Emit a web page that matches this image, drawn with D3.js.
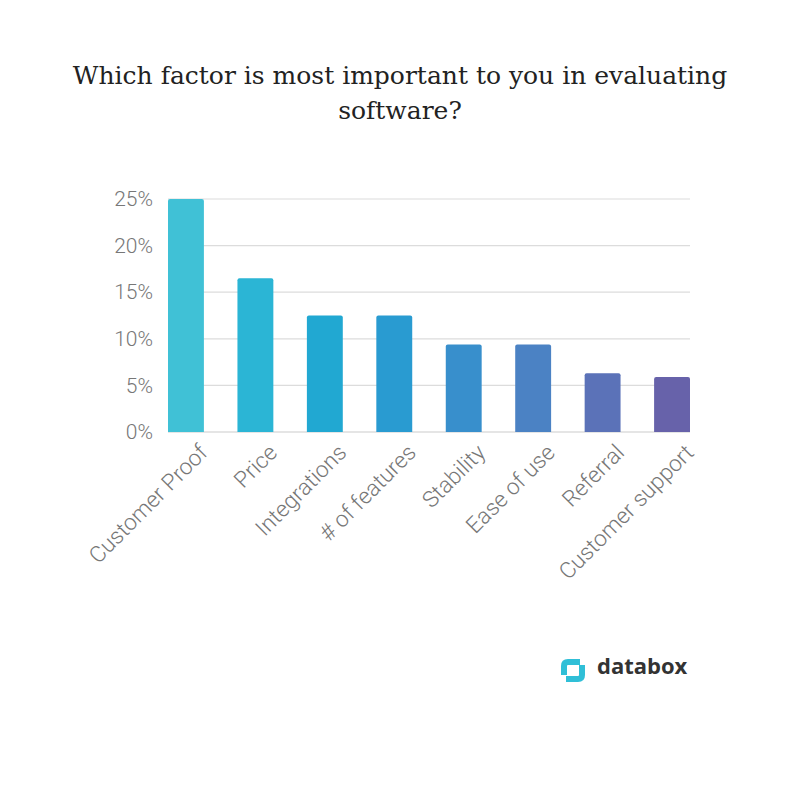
<!DOCTYPE html>
<html><head><meta charset="utf-8">
<script src="https://cdn.jsdelivr.net/npm/d3@7"></script>
<style>body{margin:0;background:#fff}</style>
</head><body>
<svg id="c" width="800" height="800"></svg>
<script>
const categories = ["Customer Proof","Price","Integrations","# of features","Stability","Ease of use","Referral","Customer support"];
const values = [25, 16.5, 12.5, 12.5, 9.4, 9.4, 6.3, 5.9];
const barColors = ["#40c1d6","#2bb5d5","#21a8d2","#299bd1","#388fcc","#4b82c4","#5b72b8","#6762aa"];
const yTicks = [0,5,10,15,20,25];
const titleLines = ["Which factor is most important to you in evaluating","software?"];

const svg = d3.select("#c");
svg.append("rect").attr("width",800).attr("height",800).attr("fill","#fff");

const t = svg.append("text").attr("x",400).attr("text-anchor","middle")
  .attr("font-family","'Roboto Slab','DejaVu Serif',serif").attr("font-size",25).attr("fill","#222");
titleLines.forEach((l,i)=>t.append("tspan").attr("x",400).attr("y",84+i*35).text(l));

const x = d3.scaleBand().domain(categories).range([168,690]).paddingInner(0.483).paddingOuter(0);
const y = d3.scaleLinear().domain([0,25]).range([432,199]);

// gridlines
svg.append("g").selectAll("line").data(yTicks).join("line")
  .attr("x1",168).attr("x2",690).attr("y1",d=>y(d)).attr("y2",d=>y(d))
  .attr("stroke",d=>d===0?"#ccc":"#dcdcdc").attr("stroke-width",1.2);

// y axis labels
const yAxis = d3.axisLeft(y).tickValues(yTicks).tickFormat(d=>d+"%").tickSize(0).tickPadding(0);
const ya = svg.append("g").attr("transform","translate(153,0)").call(yAxis);
ya.select(".domain").remove();
ya.selectAll("text").attr("font-family","Roboto, sans-serif").attr("font-weight",300)
  .attr("font-size",21).attr("fill","#777");

// bars with rounded top
const r = 2;
svg.append("g").selectAll("path").data(categories).join("path")
  .attr("fill",(d,i)=>barColors[i])
  .attr("d",(d,i)=>{
    const x0=x(d), w=x.bandwidth(), y0=y(values[i]), yb=y(0);
    return `M${x0},${yb}V${y0+r}Q${x0},${y0} ${x0+r},${y0}H${x0+w-r}Q${x0+w},${y0} ${x0+w},${y0+r}V${yb}Z`;
  });

// x labels
const xAxis = d3.axisBottom(x).tickSize(0).tickPadding(0);
const xa = svg.append("g").attr("transform","translate(0,432)").call(xAxis);
xa.select(".domain").remove();
xa.selectAll("text")
  .attr("font-family","Roboto, sans-serif").attr("font-weight",300)
  .attr("font-size",22.5).attr("fill","#777")
  .attr("text-anchor","end").attr("dy",0)
  .attr("transform","translate(23,22) rotate(-45)");

// logo
const lg = svg.append("g");
lg.append("path").attr("d","M564,675 V666 Q564,662 568,662 H580").attr("fill","none").attr("stroke","#30bfd7").attr("stroke-width",6);
lg.append("path").attr("d","M582,665 V675 Q582,679 578,679 H566").attr("fill","none").attr("stroke","#30bfd7").attr("stroke-width",6);
lg.append("text").attr("x",597).attr("y",674).attr("font-family","'Open Sans',sans-serif")
  .attr("font-weight",700).attr("font-size",22).attr("fill","#333").text("databox");
</script>
</body></html>
